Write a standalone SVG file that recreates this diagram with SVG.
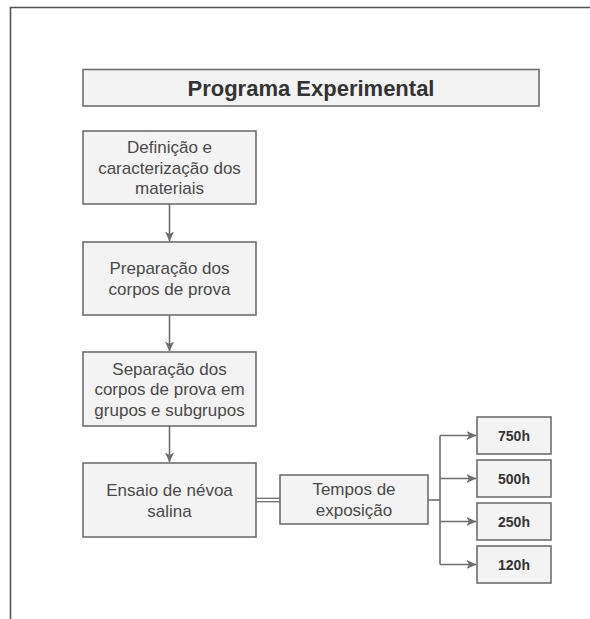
<svg xmlns="http://www.w3.org/2000/svg" width="590" height="619" viewBox="0 0 590 619">
<defs>
<style>
.box{fill:#f3f3f3;stroke:#6e6e6e;stroke-width:1.6}
.t{font-family:"Liberation Sans",Arial,sans-serif;font-size:17px;fill:#4a4a4a;text-anchor:middle}
.b{font-family:"Liberation Sans",Arial,sans-serif;font-weight:bold;fill:#333;text-anchor:middle}
.c{fill:none;stroke:#6e6e6e;stroke-width:1.6}
</style>
<marker id="ah" viewBox="0 0 10 10" refX="9.5" refY="5" markerWidth="10" markerHeight="10" markerUnits="userSpaceOnUse" orient="auto">
<path d="M0,0.5 L10,5 L0,9.5 L2.5,5 Z" fill="#6e6e6e"/>
</marker>
</defs>
<rect x="0" y="0" width="590" height="619" fill="#ffffff"/>
<g id="frame">
<path d="M10.5,619 V7.5 H590" fill="none" stroke="#555" stroke-width="1.6"/>
</g>
<g id="connectors">
<line class="c" x1="169.5" y1="204" x2="169.5" y2="241" marker-end="url(#ah)"/>
<line class="c" x1="169.5" y1="315" x2="169.5" y2="351" marker-end="url(#ah)"/>
<line class="c" x1="169.5" y1="426" x2="169.5" y2="462" marker-end="url(#ah)"/>
<line x1="256" y1="498.3" x2="280" y2="498.3" stroke="#6e6e6e" stroke-width="1.3"/>
<line x1="256" y1="501.7" x2="280" y2="501.7" stroke="#6e6e6e" stroke-width="1.3"/>
<path class="c" d="M428,500 H440"/>
<path class="c" d="M440,435.5 V564.5"/>
<line class="c" x1="440" y1="435.5" x2="476" y2="435.5" marker-end="url(#ah)"/>
<line class="c" x1="440" y1="478.5" x2="476" y2="478.5" marker-end="url(#ah)"/>
<line class="c" x1="440" y1="521.5" x2="476" y2="521.5" marker-end="url(#ah)"/>
<line class="c" x1="440" y1="564.5" x2="476" y2="564.5" marker-end="url(#ah)"/>
</g>
<g id="title">
<rect class="box" x="83" y="69.5" width="456" height="36.5"/>
<text class="b" x="311" y="95.5" font-size="22">Programa Experimental</text>
</g>
<g id="definicao">
<rect class="box" x="83" y="131" width="173" height="73"/>
<text class="t" x="169.5" y="153">Definição e</text>
<text class="t" x="169.5" y="173.5">caracterização dos</text>
<text class="t" x="169.5" y="194">materiais</text>
</g>
<g id="preparacao">
<rect class="box" x="83" y="242" width="173" height="73"/>
<text class="t" x="169.5" y="274">Preparação dos</text>
<text class="t" x="169.5" y="295">corpos de prova</text>
</g>
<g id="separacao">
<rect class="box" x="83" y="352" width="173" height="74"/>
<text class="t" x="169.5" y="374.5">Separação dos</text>
<text class="t" x="169.5" y="395">corpos de prova em</text>
<text class="t" x="169.5" y="415.5">grupos e subgrupos</text>
</g>
<g id="ensaio">
<rect class="box" x="83" y="463" width="173" height="74"/>
<text class="t" x="169.5" y="495.5">Ensaio de névoa</text>
<text class="t" x="169.5" y="516.5">salina</text>
</g>
<g id="tempos">
<rect class="box" x="280" y="475" width="148" height="49"/>
<text class="t" x="354" y="495">Tempos de</text>
<text class="t" x="354" y="516">exposição</text>
</g>
<g id="h750">
<rect class="box" x="477" y="417" width="74" height="37"/>
<text class="b" x="514" y="440.5" font-size="14">750h</text>
</g>
<g id="h500">
<rect class="box" x="477" y="460" width="74" height="37"/>
<text class="b" x="514" y="483.5" font-size="14">500h</text>
</g>
<g id="h250">
<rect class="box" x="477" y="503" width="74" height="37"/>
<text class="b" x="514" y="526.5" font-size="14">250h</text>
</g>
<g id="h120">
<rect class="box" x="477" y="546" width="74" height="37"/>
<text class="b" x="514" y="569.5" font-size="14">120h</text>
</g>
</svg>
